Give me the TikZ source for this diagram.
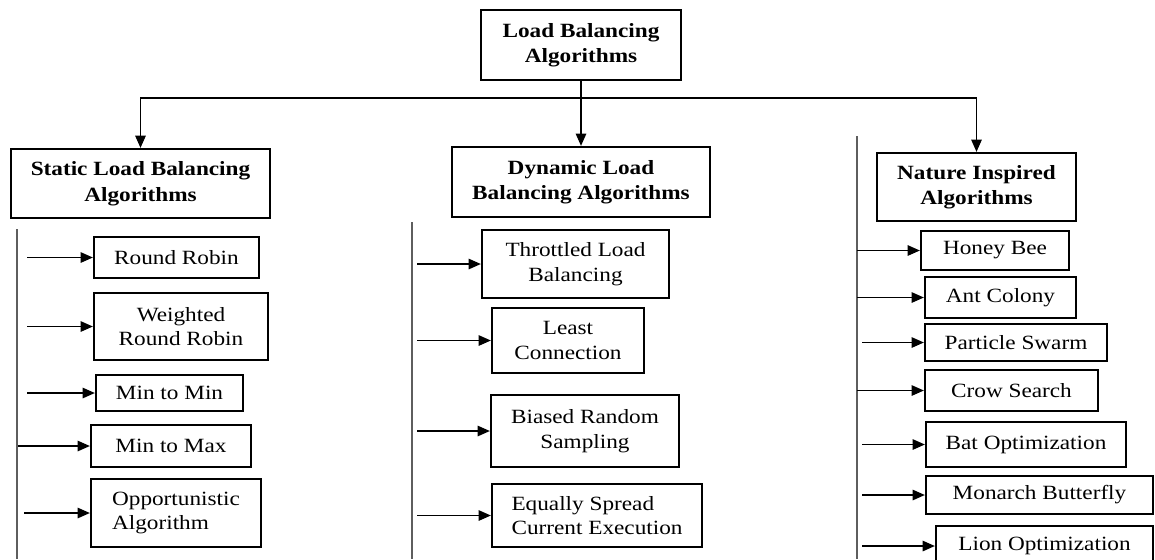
\documentclass[tikz,border=0pt]{standalone}
\usepackage{fontspec}
\setmainfont{Liberation Serif}[FakeStretch=1.15]
\usepackage{xcolor}
\definecolor{ink}{HTML}{000000}
\definecolor{railgray}{HTML}{5E5E5E}
\usetikzlibrary{arrows.meta}
\newcommand{\px}{0.02cm}
\tikzset{
  >={Triangle[length=7pt,width=6pt]},
  sz/.style 2 args={minimum width=#1*\px,minimum height=#2*\px},
  box/.style={draw=ink,line width=1.3pt,align=center,inner sep=2pt,text=ink,
    font=\fontsize{11.5}{14}\selectfont},
  head/.style={box,font=\fontsize{11.5}{14.5}\selectfont\bfseries},
  flow/.style={->,draw=ink,line width=0.75pt},
  rail/.style={draw=railgray,line width=0.7pt},
}

\begin{document}
\begin{tikzpicture}[x=\px,y=-\px]
  \useasboundingbox (0,0) rectangle (1155,559);
  \clip (0,0) rectangle (1155,559);
  % top level
  \node[head,sz={200}{70}] (root) at (581,45) {Load Balancing\\Algorithms};
  \node[head,sz={259}{69}] (stat) at (140.5,183.5) {Static Load Balancing\\Algorithms};
  \node[head,sz={258}{70}] (dyn) at (581,182) {Dynamic Load\\Balancing Algorithms};
  \node[head,sz={199}{68}] (nat) at (976.5,187) {Nature Inspired\\Algorithms};
  \coordinate (bar) at (0,98);
  \draw[flow] (root.south) -- (dyn.north);
  \draw[flow] (root.south |- bar) -| (stat.north);
  \draw[flow] (root.south |- bar) -| (nat.north);
  % rails
  \coordinate (lrail) at (17,229);
  \coordinate (mrail) at (412,222);
  \coordinate (rrail) at (857,136);
  \foreach \r in {lrail,mrail,rrail}{\draw[rail] (\r) -- (\r |- 0,559);}
  % static
  \node[box,sz={165}{41}] (rr) at (176.5,257.5) {Round Robin};
  \node[box,sz={174}{67}] (wrr) at (181,326.5) {Weighted\\Round Robin};
  \node[box,sz={147}{36}] (m2m) at (169.5,393) {Min to Min};
  \node[box,sz={160}{42}] (m2x) at (171,446) {Min to Max};
  \node[box,sz={170}{68},align=left] (opp) at (176,513) {Opportunistic\\Algorithm};
  % dynamic
  \node[box,sz={187}{68}] (thr) at (575.5,264) {Throttled Load\\Balancing};
  \node[box,sz={152}{65}] (lc) at (568,340.5) {Least\\Connection};
  \node[box,sz={188}{72}] (brs) at (585,431) {Biased Random\\Sampling};
  \node[box,sz={210}{63},align=left] (esc) at (597,515.5) {Equally Spread\\Current Execution};
  % nature inspired
  \node[box,sz={148}{39}] (hb) at (995,250.5) {Honey Bee};
  \node[box,sz={151}{41}] (ac) at (1000.5,297.5) {Ant Colony};
  \node[box,sz={182}{37}] (ps) at (1016,342.5) {Particle Swarm};
  \node[box,sz={173}{41}] (cs) at (1011.5,390.5) {Crow Search};
  \node[box,sz={200}{45}] (bat) at (1026,444.5) {Bat Optimization};
  \node[box,sz={227}{38}] (mb) at (1039.5,495) {Monarch Butterfly};
  \node[box,sz={217}{40}] (lion) at (1044.5,546) {Lion Optimization};
  % child arrows
  \foreach \n/\s in {rr/27,wrr/27,m2m/27,m2x/18,opp/24,
                     thr/417,lc/417,brs/417,esc/417,
                     hb/857,ac/857,ps/862,cs/857,bat/862,mb/862,lion/862}{
    \draw[flow] (\n.west -| \s,0) -- (\n.west);}
\end{tikzpicture}
\end{document}
